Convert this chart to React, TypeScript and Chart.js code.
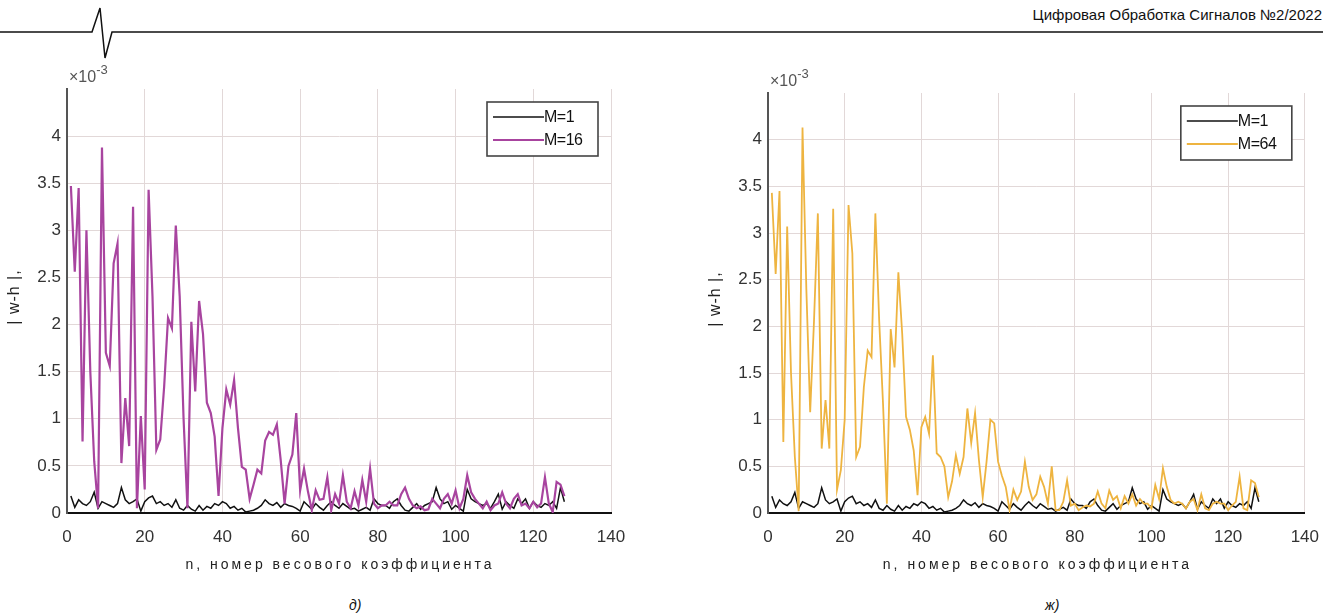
import React, { useEffect, useRef } from "react";
import { Chart, registerables } from "chart.js";

Chart.register(...registerables);

const FONT = '"Liberation Sans", Arial, sans-serif';

// weight index n
const N: number[] = Array.from({ length: 128 }, (_, i) => i + 1);

// |w-h| values, in units of 1e-3
const M1: number[] = [
  0.18, 0.06, 0.14, 0.10, 0.08, 0.12, 0.22, 0.05, 0.12, 0.10,
  0.08, 0.06, 0.10, 0.27, 0.14, 0.10, 0.12, 0.15, 0.02, 0.12,
  0.16, 0.18, 0.10, 0.12, 0.08, 0.10, 0.06, 0.14, 0.05, 0.03,
  0.08, 0.04, 0.02, 0.08, 0.03, 0.07, 0.05, 0.10, 0.08, 0.12,
  0.10, 0.05, 0.07, 0.03, 0.05, 0.01, 0.02, 0.03, 0.05, 0.08,
  0.14, 0.10, 0.08, 0.11, 0.06, 0.10, 0.08, 0.07, 0.05, 0.02,
  0.12, 0.08, 0.04, 0.10, 0.06, 0.03, 0.08, 0.12, 0.08, 0.05,
  0.10, 0.07, 0.04, 0.05, 0.02, 0.04, 0.06, 0.03, 0.15, 0.10,
  0.08, 0.08, 0.05, 0.12, 0.15, 0.08, 0.03, 0.02, 0.06, 0.10,
  0.04, 0.08, 0.10, 0.12, 0.27, 0.15, 0.10, 0.12, 0.04, 0.08,
  0.05, 0.02, 0.25, 0.15, 0.12, 0.10, 0.08, 0.10, 0.05, 0.12,
  0.20, 0.04, 0.12, 0.08, 0.05, 0.15, 0.10, 0.15, 0.05, 0.12,
  0.08, 0.06, 0.10, 0.08, 0.12, 0.05, 0.27, 0.12,
];

const M16: number[] = [
  3.47, 2.56, 3.45, 0.76, 3.00, 1.50, 0.55, 0.05, 3.88, 1.70,
  1.56, 2.65, 2.86, 0.53, 1.22, 0.71, 3.25, 0.05, 1.03, 0.25,
  3.43, 2.30, 0.67, 0.78, 1.34, 2.07, 1.96, 3.05, 2.30, 1.00,
  0.05, 2.03, 1.29, 2.25, 1.90, 1.17, 1.06, 0.81, 0.18, 0.90,
  1.31, 1.15, 1.41, 0.90, 0.49, 0.46, 0.15, 0.30, 0.46, 0.42,
  0.77, 0.86, 0.83, 0.94, 0.56, 0.10, 0.50, 0.62, 1.06, 0.24,
  0.47, 0.23, 0.03, 0.24, 0.14, 0.15, 0.38, 0.03, 0.20, 0.10,
  0.40, 0.12, 0.05, 0.23, 0.08, 0.35, 0.12, 0.47, 0.10, 0.05,
  0.08, 0.08, 0.12, 0.08, 0.08, 0.20, 0.27, 0.15, 0.08, 0.05,
  0.07, 0.03, 0.04, 0.15, 0.10, 0.05, 0.15, 0.20, 0.10, 0.24,
  0.05, 0.15, 0.40, 0.22, 0.15, 0.10, 0.05, 0.12, 0.03, 0.08,
  0.10, 0.22, 0.10, 0.05, 0.15, 0.20, 0.08, 0.10, 0.05, 0.12,
  0.06, 0.10, 0.38, 0.10, 0.01, 0.33, 0.30, 0.18,
];

const M64: number[] = [
  3.43, 2.56, 3.45, 0.76, 3.07, 1.50, 0.60, 0.02, 4.13, 2.40,
  1.08, 2.06, 3.21, 0.69, 1.21, 0.69, 3.26, 0.25, 0.46, 1.00,
  3.30, 2.78, 0.60, 0.71, 1.35, 1.74, 1.67, 3.21, 2.06, 1.17,
  0.10, 1.97, 1.56, 2.58, 1.92, 1.03, 0.89, 0.67, 0.19, 0.92,
  1.03, 0.85, 1.69, 0.64, 0.60, 0.50, 0.17, 0.34, 0.62, 0.42,
  0.60, 1.12, 0.75, 1.07, 0.57, 0.17, 0.55, 1.00, 0.96, 0.55,
  0.40, 0.28, 0.03, 0.25, 0.14, 0.23, 0.55, 0.28, 0.14, 0.20,
  0.39, 0.28, 0.10, 0.50, 0.03, 0.03, 0.12, 0.35, 0.08, 0.10,
  0.03, 0.06, 0.08, 0.07, 0.10, 0.23, 0.10, 0.05, 0.24, 0.14,
  0.18, 0.05, 0.18, 0.10, 0.20, 0.08, 0.15, 0.10, 0.10, 0.05,
  0.30, 0.15, 0.48, 0.28, 0.14, 0.10, 0.12, 0.10, 0.05, 0.12,
  0.15, 0.03, 0.20, 0.05, 0.03, 0.10, 0.12, 0.10, 0.10, 0.03,
  0.08, 0.12, 0.39, 0.05, 0.03, 0.35, 0.32, 0.17,
];

const X_MIN = 0;
const X_MAX = 140;
const X_STEP = 20;
const Y_MIN = 0;
const Y_MAX = 4.5;
const Y_STEP = 0.5;

const X_TITLE = "n, номер весового коэффициента";
const Y_TITLE = "| w-h |,";
const HEADER = "Цифровая Обработка Сигналов №2/2022";

const GRID = "#e2d8d8";

const overlay = {
  id: "overlay",
  afterDraw(chart: any) {
    const { ctx, chartArea: ca } = chart;
    ctx.save();
    // exponent
    ctx.fillStyle = "#555";
    ctx.textBaseline = "middle";
    ctx.textAlign = "left";
    ctx.font = `16px ${FONT}`;
    const ex = ca.left + 2;
    const ey = ca.top - 11;
    ctx.fillText("×10", ex, ey);
    const w = ctx.measureText("×10").width;
    ctx.font = `13px ${FONT}`;
    ctx.fillText("-3", ex + w, ey - 8);

    // x title
    ctx.fillStyle = "#222";
    ctx.font = `14px ${FONT}`;
    ctx.textAlign = "center";
    (ctx as any).letterSpacing = "3px";
    ctx.fillText(X_TITLE, (ca.left + ca.right) / 2 + 1, ca.bottom + 52);
    // y title
    ctx.save();
    ctx.translate(ca.left - 52, (ca.top + ca.bottom) / 2 - 4);
    ctx.rotate(-Math.PI / 2);
    ctx.font = `16px ${FONT}`;
    (ctx as any).letterSpacing = "1px";
    ctx.fillText(Y_TITLE, 0, 0);
    ctx.restore();
    (ctx as any).letterSpacing = "0px";

    // legend
    const ds = chart.data.datasets;
    const bw = 111;
    const bh = 54;
    const bx = ca.right - 13 - bw;
    const by = ca.top + 13;
    ctx.fillStyle = "#fff";
    ctx.fillRect(bx, by, bw, bh);
    ctx.strokeStyle = "#444";
    ctx.lineWidth = 1.6;
    ctx.strokeRect(bx, by, bw, bh);
    ds.forEach((d: any, i: number) => {
      const y = by + 15 + i * 23;
      ctx.strokeStyle = d.borderColor;
      ctx.lineWidth = d.borderWidth;
      ctx.beginPath();
      ctx.moveTo(bx + 6, y);
      ctx.lineTo(bx + 57, y);
      ctx.stroke();
      ctx.fillStyle = "#111";
      ctx.font = `16px ${FONT}`;
      ctx.textAlign = "left";
      ctx.textBaseline = "middle";
      (ctx as any).letterSpacing = "-0.5px";
      ctx.fillText(d.label, bx + 57, y + 1);
      (ctx as any).letterSpacing = "0px";
    });
    ctx.restore();
  },
};

type PanelProps = {
  left: number;
  top: number;
  width: number;
  height: number;
  pad: { top: number; right: number };
  axisW: number;
  second: number[];
  secondLabel: string;
  secondColor: string;
  secondWidth: number;
};

function Panel(p: PanelProps) {
  const ref = useRef<HTMLCanvasElement | null>(null);
  useEffect(() => {
    if (!ref.current) return;
    const tickFont = { family: FONT, size: 17 };
    const chart = new Chart(ref.current, {
      type: "line",
      data: {
        datasets: [
          {
            label: "M=1",
            data: N.map((n, i) => ({ x: n, y: M1[i] })),
            borderColor: "#111111",
            borderWidth: 1.5,
            pointRadius: 0,
            tension: 0,
            order: 2,
          },
          {
            label: p.secondLabel,
            data: N.map((n, i) => ({ x: n, y: p.second[i] })),
            borderColor: p.secondColor,
            borderWidth: p.secondWidth,
            pointRadius: 0,
            tension: 0,
            order: 1,
          },
        ],
      },
      options: {
        animation: false,
        responsive: false,
        maintainAspectRatio: false,
        layout: { padding: { top: p.pad.top, right: p.pad.right, left: 0, bottom: 0 } },
        plugins: { legend: { display: false }, tooltip: { enabled: false } },
        scales: {
          x: {
            type: "linear",
            min: X_MIN,
            max: X_MAX,
            ticks: { stepSize: X_STEP, color: "#333", font: tickFont, padding: 14, maxRotation: 0 },
            grid: { color: GRID, lineWidth: 1, drawTicks: false },
            border: { display: true, color: "#111", width: 2 },
            afterFit: (s: any) => {
              s.height = 72;
            },
          },
          y: {
            type: "linear",
            min: Y_MIN,
            max: Y_MAX,
            ticks: {
              stepSize: Y_STEP,
              color: "#333",
              font: tickFont,
              padding: 6,
              callback: (v: any) => (Math.abs(v - Y_MAX) < 1e-9 ? "" : String(Number(Number(v).toFixed(1)))),
            },
            grid: {
              color: (c: any) => (c.tick && Math.abs(c.tick.value - Y_MAX) < 1e-9 ? "rgba(0,0,0,0)" : GRID),
              lineWidth: 1,
              drawTicks: false,
            },
            border: { display: true, color: "#555", width: 2 },
            afterFit: (s: any) => {
              s.width = p.axisW;
            },
          },
        },
      } as any,
      plugins: [overlay],
    });
    return () => chart.destroy();
  }, []);
  return (
    <canvas
      ref={ref}
      width={p.width}
      height={p.height}
      style={{ position: "absolute", left: p.left, top: p.top, width: p.width, height: p.height }}
    />
  );
}

export default function App() {
  return (
    <div style={{ position: "absolute", left: 0, top: 0, width: 1333, height: 616, background: "#fff", overflow: "hidden" }}>
      <svg width={1333} height={60} style={{ position: "absolute", left: 0, top: 0 }}>
        <polyline
          points="0,32 92,32 100,8 105,58 112,32 1323,32"
          fill="none"
          stroke="#111"
          strokeWidth={1.5}
          strokeLinejoin="miter"
        />
        <text x={1322} y={20} textAnchor="end" fontSize={15} fontFamily={FONT} fill="#111">
          {HEADER}
        </text>
      </svg>
      <Panel
        left={0}
        top={60}
        width={660}
        height={525}
        pad={{ top: 29, right: 49 }}
        axisW={67}
        second={M16}
        secondLabel="M=16"
        secondColor="#a8449f"
        secondWidth={2.2}
      />
      <Panel
        left={700}
        top={60}
        width={633}
        height={525}
        pad={{ top: 33, right: 25 }}
        axisW={68}
        second={M64}
        secondLabel="M=64"
        secondColor="#eeb440"
        secondWidth={1.8}
      />
      <div style={{ position: "absolute", left: 349, top: 597, fontFamily: FONT, fontStyle: "italic", fontSize: 14, lineHeight: "16px", color: "#111" }}>
        д)
      </div>
      <div style={{ position: "absolute", left: 1045, top: 597, fontFamily: FONT, fontStyle: "italic", fontSize: 14, lineHeight: "16px", color: "#111" }}>
        ж)
      </div>
    </div>
  );
}
